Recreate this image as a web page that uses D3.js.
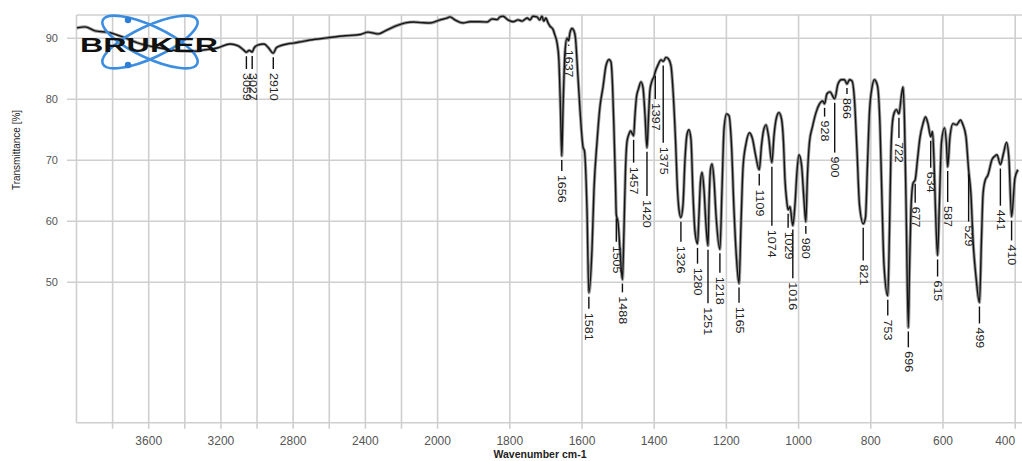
<!DOCTYPE html>
<html><head><meta charset="utf-8">
<script src="https://cdn.jsdelivr.net/npm/d3@7"></script>
<style>body{margin:0;background:#fff;} svg{display:block;}</style>
</head><body>
<svg id="chart" width="1022" height="461"></svg>
<script>
// ---- data ----
const spectrumWn = [3998,3953,3897,3814,3731,3648,3537,3426,3354,3288,3221,3149,3105,3072,3059,3044,3027,3016,2994,2961,2939,2910,2894,2872,2833,2800,2761,2706,2612,2512,2429,2385,2357,2329,2290,2223,2179,2135,2085,2041,1993,1974,1966,1952,1930,1910,1883,1863,1849,1835,1827,1819,1805,1791,1777,1766,1752,1744,1736,1725,1717,1711,1706,1700,1694,1689,1680,1675,1669,1664,1659.6,1656,1652.6,1647,1641.6,1637,1633.3,1627.7,1622.2,1618,1613.9,1605.6,1597.2,1593.1,1586.2,1581,1572.3,1566.8,1558.5,1550.2,1541.8,1533.5,1525.2,1519.7,1515.5,1511.4,1507.2,1505,1500.3,1494.8,1488,1483.7,1479.5,1475.4,1469.8,1465.7,1460.1,1457,1453.2,1449,1443.5,1436.6,1431,1425.5,1420,1415.8,1411.7,1406.1,1400.6,1397,1389.5,1381.2,1375,1367.3,1360.4,1353.5,1347.9,1341,1335.5,1331.3,1326,1320.2,1314.7,1309.2,1303.6,1298.1,1292.5,1287,1280,1275.9,1271.8,1267.6,1262.1,1256.5,1251,1248.2,1244.1,1239.9,1234.4,1228.8,1218,1212.2,1206.7,1199.7,1192.8,1185.9,1179,1172,1165,1159.6,1154,1145.7,1136,1127.7,1119.4,1109,1102.8,1097.3,1090.3,1083.4,1074,1068.2,1061.2,1054.3,1047.4,1041.9,1037.7,1033.5,1029,1023.9,1016,1010,1004.5,998.9,992,985.1,980,975.4,969.8,961.5,951.8,942.1,933.8,928,921.4,913,900,890.9,881.2,872.9,866,859,852.1,845.2,838.3,831.3,821,814.7,809.2,803.6,796.7,789.8,781.5,774.6,769,763.5,753,748.2,744.1,739.9,734.4,728.8,722,715,710.8,706.7,702.5,696,692.8,688.7,683.1,677,670.7,663.8,655.4,648.5,641.6,634,629.1,625,620.8,615,609.7,604.2,595.9,590.3,587,580.7,572.4,562.6,551.6,544.6,536.3,529,522.5,516.9,508.6,499,493.4,489.2,483.7,475.4,464.3,456,450.5,441,432.5,424.1,417.2,410,400.6,392.3];
const spectrumT = [91.7,91.85,91.2,90.9,90.05,89.1,88.4,87.9,87.85,88.1,88.4,89.05,88.75,88.0,87.7,88.0,87.75,88.4,88.9,89.05,88.5,87.55,88.4,88.75,89.05,89.2,89.4,89.7,90.05,90.4,90.6,91.0,90.85,90.7,91.2,92.1,92.5,92.65,92.55,92.5,93.0,93.3,93.5,93.0,92.5,92.7,92.7,92.65,93.15,93.05,93.5,93.6,93.0,92.7,93.0,92.8,93.3,93.0,93.6,93.5,93.0,93.6,92.8,93.3,92.5,92.0,91.4,90.5,89.2,86.4,78.3,70.7,78.3,87.8,90.0,89.6,90.9,91.6,91.2,90.0,86.4,78.3,72.2,71.5,62.0,48.3,55.4,65.2,72.9,78.8,82.0,85.5,86.5,86.1,82.4,75.0,66.0,61.1,59.9,55.4,50.45,58.6,68.45,73.0,74.3,74.8,74.3,74.0,77.4,80.4,81.7,82.85,81.9,77.45,72.05,77.0,81.5,83.0,83.7,84.5,85.6,86.45,86.2,86.85,86.6,85.5,81.5,73.4,65.2,61.9,60.6,62.7,70.1,74.2,75.0,73.4,64.35,58.3,56.3,61.1,66.5,68.0,65.2,59.4,56.0,62.7,68.45,69.4,66.8,61.1,55.4,65.2,75.0,77.6,77.3,72.5,61.9,53.9,49.8,59.4,68.8,72.7,74.5,73.5,70.9,68.45,72.4,74.8,75.8,74.0,69.6,74.0,77.0,77.8,76.8,73.0,66.8,63.7,61.9,62.4,59.3,62.7,68.1,70.9,69.3,63.5,59.9,67.6,73.0,75.5,77.8,79.25,79.7,79.25,80.9,81.2,80.07,82.5,83.2,83.2,82.5,83.2,83.0,79.9,71.7,62.7,59.6,60.6,69.3,77.9,81.9,83.2,82.2,75.8,63.5,52.9,47.8,58.6,71.4,76.3,77.9,78.3,77.6,80.7,82.0,76.6,63.5,42.6,52.0,61.9,66.2,66.8,70.1,73.7,76.0,77.1,76.0,73.85,74.7,70.1,61.9,54.4,63.5,72.9,75.3,72.5,68.9,73.85,76.0,75.8,76.6,75.8,73.85,68.4,64.35,57.0,50.9,46.7,57.0,64.35,66.6,67.6,70.1,70.7,70.9,69.3,71.1,72.9,70.1,60.75,67.1,68.45];

const peakLabels = ["3059","3027","2910","1656","1637","1581","1505","1488","1457","1420","1397","1375","1326","1280","1251","1218","1165","1109","1074","1029","1016","980","928","900","866","821","753","722","696","677","634","615","587","529","499","441","410"];
const peakWn = [3059,3027,2910,1656,1637,1581,1505,1488,1457,1420,1397,1375,1326,1280,1251,1218,1165,1109,1074,1029,1016,980,928,900,866,821,753,722,696,677,634,615,587,529,499,441,410];
const peakT  = [87.7,87.75,87.55,70.7,89.6,48.3,61.1,50.45,74.0,72.05,84.5,86.2,60.6,56.3,56.0,55.4,49.8,68.45,69.6,61.9,59.3,59.9,79.25,80.07,82.5,59.6,47.8,77.6,42.6,66.8,73.85,54.4,68.9,68.4,46.7,69.3,60.75];
const labelT = [84.3,84.3,84.3,67.6,88.1,45.0,56.0,47.7,68.95,63.5,79.4,72.2,56.0,52.4,45.9,50.9,46.0,65.2,58.6,58.3,50.0,57.3,76.5,70.6,80.2,52.9,43.9,73.0,38.7,62.4,68.1,50.3,62.5,59.3,42.6,61.9,56.2];

const xTickLabels = [3600,3200,2800,2400,2000,1800,1600,1400,1200,1000,800,600,400];
const xGridValues = [3800,3600,3400,3200,3000,2800,2600,2400,2200,2000,1800,1600,1400,1200,1000,800,600,400];
const yTickValues = [90,80,70,60,50];

// ---- layout ----
const svg = d3.select("#chart");
const W = 1022;
const plotL = 76.5, plotR = 1018.8, plotT = 15, plotB = 422.7;
const x = d3.scaleLinear().domain([4000, 2000, 390]).range([plotL, 437.6, plotR]);
const y = d3.scaleLinear().domain([27, 93.8]).range([plotB, plotT]);
const font = "'Liberation Sans', Arial, sans-serif";

// grid
const grid = svg.append("g").attr("stroke", "#cfcfcf").attr("stroke-width", 1.6);
grid.selectAll(".hg").data(yTickValues).join("line")
  .attr("x1", 67).attr("x2", W).attr("y1", d => y(d)).attr("y2", d => y(d));
grid.selectAll(".vg").data(xGridValues).join("line")
  .attr("x1", d => x(d)).attr("x2", d => x(d)).attr("y1", plotT).attr("y2", plotB + 6);
grid.append("line").attr("x1", plotL).attr("x2", W).attr("y1", plotT).attr("y2", plotT);
grid.append("line").attr("x1", plotL).attr("x2", W).attr("y1", plotB).attr("y2", plotB);
grid.append("line").attr("x1", plotL).attr("x2", plotL).attr("y1", plotT).attr("y2", plotB);

// axes labels
svg.append("g").selectAll("text").data(yTickValues).join("text")
  .attr("x", 58).attr("y", d => y(d)).attr("dy", "0.35em").attr("text-anchor", "end")
  .attr("font-family", font).attr("font-size", 11).attr("fill", "#555").text(d => d);
svg.append("g").selectAll("text").data(xTickLabels).join("text")
  .attr("x", d => Math.min(x(d), W - 1)).attr("y", 445)
  .attr("text-anchor", d => x(d) + 12 > W ? "end" : "middle")
  .attr("font-family", font).attr("font-size", 12).attr("fill", "#555").text(d => d);

svg.append("text").attr("transform", "translate(20,150) rotate(-90)")
  .attr("text-anchor", "middle").attr("font-family", font).attr("font-size", 10)
  .attr("fill", "#222").text("Transmittance [%]");
svg.append("text").attr("x", 540).attr("y", 458).attr("text-anchor", "middle")
  .attr("font-family", font).attr("font-size", 10.5).attr("font-weight", "bold")
  .attr("fill", "#222").text("Wavenumber cm-1");

// spectrum
const pts = spectrumWn.map((w, i) => [w, spectrumT[i]]);
const line = d3.line().x(d => x(d[0])).y(d => y(d[1])).curve(d3.curveMonotoneX);
svg.append("path").datum(pts).attr("d", line).attr("fill", "none")
  .attr("stroke", "#9a9a9a").attr("stroke-width", 3.2).attr("stroke-linejoin", "round");
svg.append("path").datum(pts).attr("d", line).attr("fill", "none")
  .attr("stroke", "#151515").attr("stroke-width", 1.4).attr("stroke-linejoin", "round");

// peak labels
const pk = svg.append("g");
peakWn.forEach((w, i) => {
  const px = x(w), y0 = y(peakT[i]) + 4, y1 = y(labelT[i]) - 4;
  if (y1 > y0) pk.append("line").attr("x1", px).attr("x2", px).attr("y1", y0).attr("y2", y1)
    .attr("stroke", "#111").attr("stroke-width", 1.4);
  pk.append("text").attr("transform", `translate(${px},${y(labelT[i])}) rotate(90) scale(1.25,1)`)
    .attr("dy", "0.35em").attr("font-family", font).attr("font-size", 10)
    .attr("fill", "#222").text(peakLabels[i]);
});

// Bruker logo
const logo = svg.append("g");
[25, -25].forEach(a => logo.append("ellipse").attr("cx", 150).attr("cy", 42).attr("rx", 52).attr("ry", 16)
  .attr("transform", `rotate(${a},150,42)`).attr("fill", "none").attr("stroke", "#3d8ee0").attr("stroke-width", 2.6));
[[128, 20], [128, 65]].forEach(p => logo.append("circle").attr("cx", p[0]).attr("cy", p[1]).attr("r", 3.2).attr("fill", "#2f7fd6"));
logo.append("text").attr("x", 80).attr("y", 52).attr("textLength", 138).attr("lengthAdjust", "spacingAndGlyphs")
  .attr("font-family", font).attr("font-weight", "bold").attr("font-size", 20).attr("fill", "#111").text("BRUKER");
</script>
</body></html>
